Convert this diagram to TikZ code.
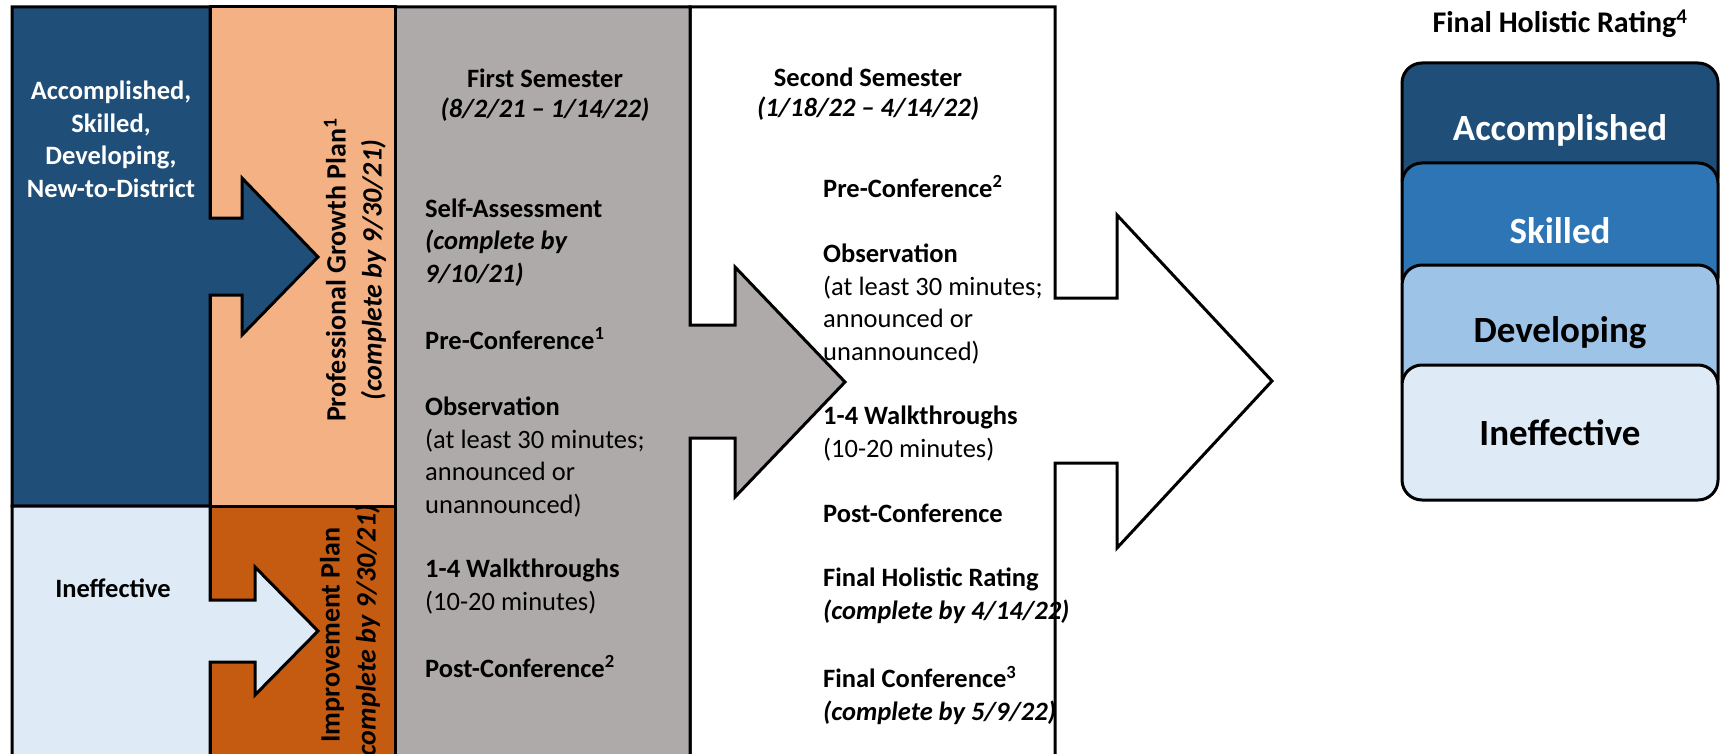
\documentclass[tikz,border=0pt]{standalone}
\usepackage{fontspec}
\setmainfont{Carlito}

\definecolor{navy}{HTML}{1F4E79}
\definecolor{skillblue}{HTML}{2E75B6}
\definecolor{devblue}{HTML}{9DC3E6}
\definecolor{paleblue}{HTML}{DEEBF7}
\definecolor{peach}{HTML}{F4B183}
\definecolor{rust}{HTML}{C55A11}
\definecolor{stone}{HTML}{AEAAAA}

% note: the base of a multi-line node is the baseline of its last line
\tikzset{
  panel/.style={draw=black, line width=3pt, line join=miter},
  itemtext/.style={font=\fontsize{26.5}{32.5}\selectfont, align=left, anchor=base west, inner sep=0pt},
  headtext/.style={font=\fontsize{26.5}{30}\selectfont, align=center, anchor=base, inner sep=0pt},
  plantext/.style={font=\bfseries\fontsize{28}{36}\selectfont, align=center, rotate=90, inner sep=0pt},
  ratebox/.style={draw=black, line width=3pt, rounded corners=20pt, minimum width=316pt,
    minimum height=135pt, font=\bfseries\fontsize{37}{42}\selectfont}
}

\begin{document}
\begin{tikzpicture}[x=1pt, y=-1pt]
    \useasboundingbox (0,0) rectangle (1720,754);
    % second semester column with its arrow
    \draw[panel, fill=white] (690,7) -- (1055,7) -- (1055,298) -- (1117,298) -- (1117,215)
        -- (1272,381) -- (1117,548) -- (1117,463) -- (1055,463) -- (1055,760) -- (690,760) -- cycle;
    % first semester column with its arrow
    \draw[panel, fill=stone] (395,7) -- (690,7) -- (690,325) -- (735,325) -- (735,267)
        -- (845,382) -- (735,497) -- (735,438) -- (690,438) -- (690,760) -- (395,760) -- cycle;
    % plan columns
    \draw[panel, fill=peach] (210,7) rectangle (395,506);
    \draw[panel, fill=rust] (210,506) rectangle (395,760);
    % rating groups with their arrows
    \draw[panel, fill=navy] (12,7) -- (210,7) -- (210,218) -- (242,218) -- (242,178)
        -- (318,257) -- (242,335) -- (242,295) -- (210,295) -- (210,506) -- (12,506) -- cycle;
    \draw[panel, fill=paleblue] (12,506) -- (210,506) -- (210,600) -- (255,600) -- (255,567)
        -- (318,631) -- (255,695) -- (255,662) -- (210,662) -- (210,760) -- (12,760) -- cycle;

    % left labels
    \node[headtext, text=white, font=\bfseries\fontsize{26.5}{32.5}\selectfont] (upper) at (111,197)
        {Accomplished,\\ Skilled,\\ Developing,\\ New-to-District};
    \node[headtext, font=\bfseries\fontsize{26.5}{32.5}\selectfont] (lower) at (113,597) {Ineffective};
    \node[plantext] (pgp) at (355,270)
        {Professional Growth Plan\textsuperscript{1}\\ \textit{(complete by 9/30/21)}};
    \node[plantext] (imp) at (350,635)
        {Improvement Plan\\ \textit{(complete by 9/30/21)}};

    % first semester
    \node[headtext] (sem1) at (545,118) {\textbf{First Semester}\\ \textbf{\textit{(8/2/21 – 1/14/22)}}};
    \node[itemtext] (self) at (425,282)
        {\textbf{Self-Assessment}\\ \textbf{\textit{(complete by}}\\ \textbf{\textit{9/10/21)}}};
    \node[itemtext] (pre1) at (425,349) {\textbf{Pre-Conference\textsuperscript{1}}};
    \node[itemtext] (obs1) at (425,513)
        {\textbf{Observation}\\ (at least 30 minutes;\\ announced or\\ unannounced)};
    \node[itemtext] (walk1) at (425,610) {\textbf{1-4 Walkthroughs}\\ (10-20 minutes)};
    \node[itemtext] (post1) at (425,677) {\textbf{Post-Conference\textsuperscript{2}}};

    % second semester
    \node[headtext] (sem2) at (868,117) {\textbf{Second Semester}\\ \textbf{\textit{(1/18/22 – 4/14/22)}}};
    \node[itemtext] (pre2) at (823,197) {\textbf{Pre-Conference\textsuperscript{2}}};
    \node[itemtext] (obs2) at (823,360)
        {\textbf{Observation}\\ (at least 30 minutes;\\ announced or\\ unannounced)};
    \node[itemtext] (walk2) at (823,457) {\textbf{1-4 Walkthroughs}\\ (10-20 minutes)};
    \node[itemtext] (post2) at (823,522) {\textbf{Post-Conference}};
    \node[itemtext] (final) at (823,619)
        {\textbf{Final Holistic Rating}\\ \textbf{\textit{(complete by 4/14/22)}}};
    \node[itemtext] (fconf) at (823,720)
        {\textbf{Final Conference\textsuperscript{3}}\\ \textbf{\textit{(complete by 5/9/22)}}};

    % final holistic rating stack
    \node[headtext, font=\bfseries\fontsize{30}{34}\selectfont] (ratetitle) at (1560,33)
        {Final Holistic Rating\textsuperscript{4}};
    \node[ratebox, fill=navy, text=white] (acc) at (1560,130.5) {Accomplished};
    \node[ratebox, fill=skillblue, text=white] (skl) at (1560,230.5) {Skilled};
    \node[ratebox, fill=devblue] (dev) at (1560,332.5) {Developing};
    \node[ratebox, fill=paleblue] (ine) at (1560,432.5) {Ineffective};
\end{tikzpicture}
\end{document}
